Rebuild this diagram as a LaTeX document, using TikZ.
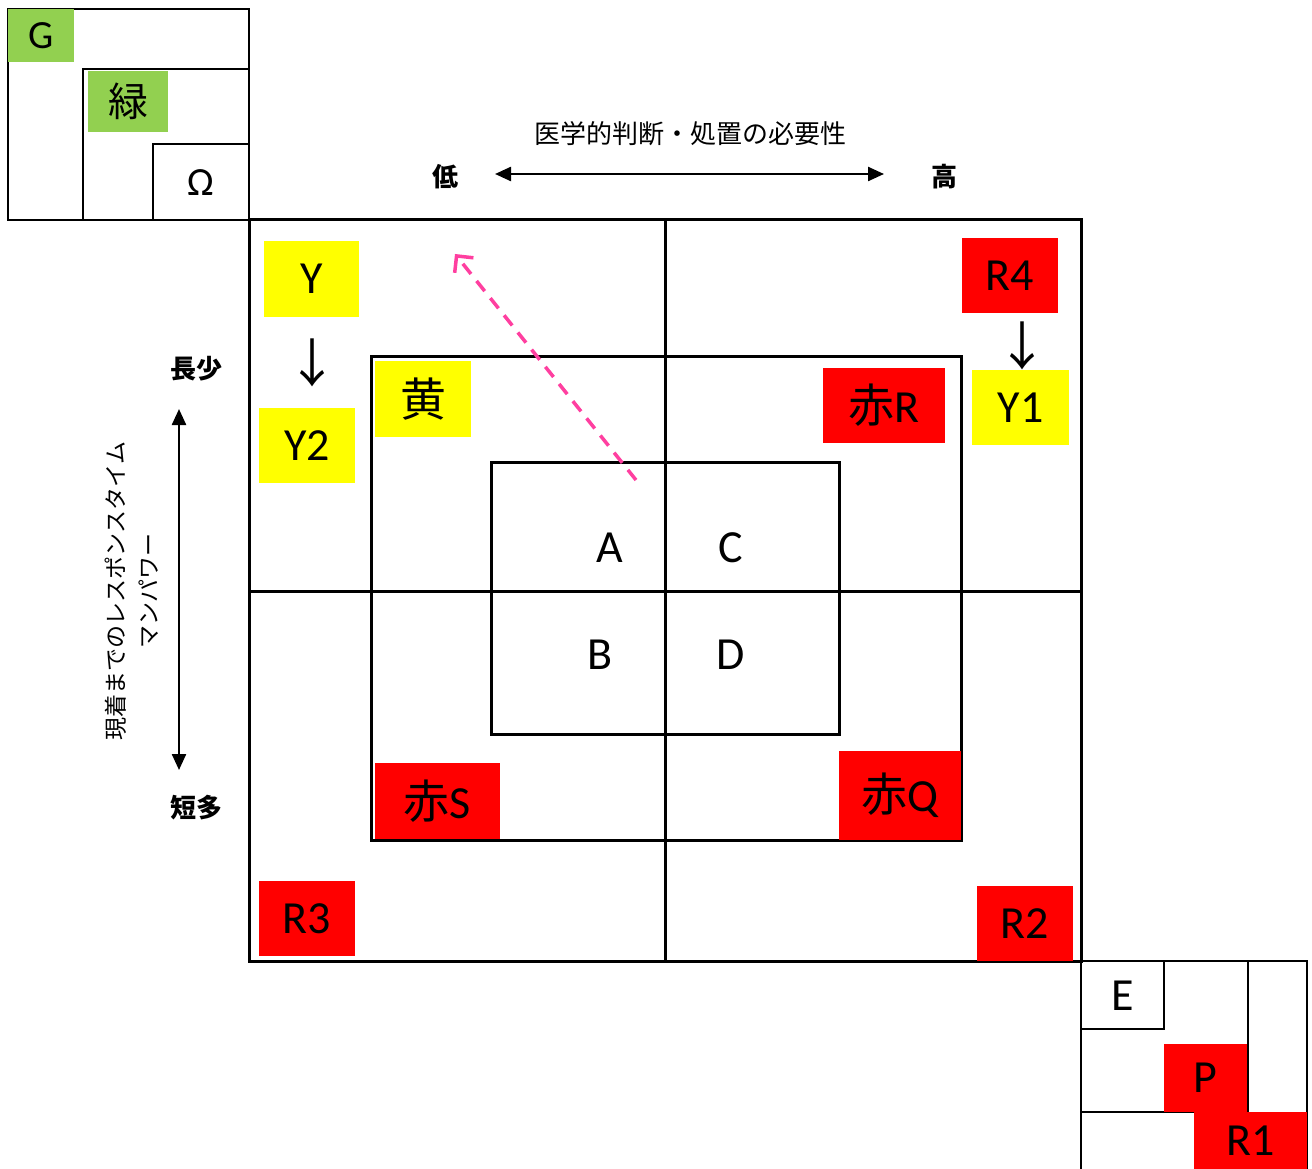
\documentclass[tikz,border=0pt]{standalone}
\usepackage{fontspec}
\setmainfont{Carlito}
\newfontfamily\jp{Noto Sans CJK JP}
\usetikzlibrary{arrows.meta}
\definecolor{ygreen}{HTML}{92D050}
\definecolor{pyel}{HTML}{FFFF00}
\definecolor{pred}{HTML}{FF0000}
\definecolor{ppink}{HTML}{FF3FA0}
\begin{document}
\begin{tikzpicture}[x=1pt,y=-1pt,
  frame/.style={line width=3pt, line cap=rect},
  thinframe/.style={line width=2.6pt, line cap=rect},
  lbl/.style={inner sep=0pt, font=\fontsize{46}{50}\selectfont},
  smalllbl/.style={inner sep=0pt, font=\fontsize{40}{44}\selectfont},
  axislbl/.style={inner sep=0pt, font=\jp\bfseries\fontsize{26}{30}\selectfont},
  axisarrow/.style={line width=2.4pt, {Triangle[length=16pt,width=14pt]}-{Triangle[length=16pt,width=14pt]}},
  downglyph/.style={inner sep=0pt, font=\jp\fontsize{52}{56}\selectfont}
]
\useasboundingbox (0,0) rectangle (1312,1169);
\fill[white] (0,0) rectangle (1312,1169);

% ---- top-left group
\draw[thinframe] (8,9) rectangle (249,220);
\draw[thinframe] (83,220) |- (249,69);
\draw[thinframe] (153,220) |- (249,144);

% ---- main grid
\draw[frame] (249,220) rectangle (1081,961);
\draw[frame] (665,220) -- (665,961);
\draw[frame] (249,591) -- (1081,591);
\draw[frame] (371,356) rectangle (961,840);
\draw[frame] (491,462) rectangle (839,734);

% ---- bottom-right group
\draw[thinframe] (1081,961) -- (1307,961) -- (1307,1169);
\draw[thinframe] (1081,961) -- (1081,1169);
\draw[thinframe] (1164,961) |- (1081,1029);
\draw[thinframe] (1248,961) |- (1081,1112);

% ---- coloured tags
\node[smalllbl, fill=ygreen, minimum width=66pt, minimum height=53pt] (g) at (41,35.5) {G};
\node[smalllbl, fill=ygreen, minimum width=80pt, minimum height=61pt, font=\jp\fontsize{40}{44}\selectfont] (midori) at (128,101.5) {緑};
\node[smalllbl] (omega) at (201,183) {Ω};

\node[lbl, fill=pyel, minimum width=95pt, minimum height=76pt] (y) at (311.5,279) {Y};
\node[downglyph] (dn1) at (312,363) {↓};
\node[lbl, fill=pyel, minimum width=96pt, minimum height=75pt] (y2) at (307,445.5) {Y2};
\node[lbl, fill=pyel, minimum width=96pt, minimum height=76pt, font=\jp\fontsize{46}{50}\selectfont] (ki) at (423,399) {黄};

\node[lbl, fill=pred, minimum width=96pt, minimum height=75pt] (r4) at (1010,275.5) {R4};
\node[downglyph] (dn2) at (1022,346) {↓};
\node[lbl, fill=pyel, minimum width=97pt, minimum height=75pt] (y1) at (1020.5,407.5) {Y1};
\node[lbl, fill=pred, minimum width=122pt, minimum height=75pt] (akar) at (884,405.5) {{\jp 赤}R};
\node[lbl, fill=pred, minimum width=125pt, minimum height=76pt] (akas) at (437.5,801) {{\jp 赤}S};
\node[lbl, fill=pred, minimum width=122pt, minimum height=89pt] (akaq) at (900,795.5) {{\jp 赤}Q};
\node[lbl, fill=pred, minimum width=96pt, minimum height=75pt] (r3) at (307,918.5) {R3};
\node[lbl, fill=pred, minimum width=96pt, minimum height=75pt] (r2) at (1025,923.5) {R2};

\node[lbl] (a) at (610,548) {A};
\node[lbl] (c) at (731,548) {C};
\node[lbl] (b) at (600,655) {B};
\node[lbl] (d) at (731,655) {D};

\node[lbl] (e) at (1122.5,996) {E};
\node[lbl, fill=pred, minimum width=83pt, minimum height=68pt] (p) at (1205.5,1078) {P};
\node[lbl, fill=pred, minimum width=113pt, minimum height=57pt, text depth=0pt] (r1) at (1250.5,1140.5) {R1};

% ---- axes
\node[inner sep=0pt, font=\jp\fontsize{26}{30}\selectfont] (title) at (690,134) {医学的判断・処置の必要性};
\node[axislbl] (low) at (445,177) {低};
\node[axislbl] (high) at (944,177) {高};
\coordinate (hl) at (495,174);
\coordinate (hr) at (884,174);
\draw[axisarrow] (hl) -- (hr);

\node[axislbl] (long) at (196,369) {長少};
\node[axislbl] (short) at (196,808) {短多};
\coordinate (vt) at (179,409);
\coordinate (vb) at (179,770);
\draw[axisarrow] (vt) -- (vb);
\node[rotate=90, align=center, inner sep=0pt, font=\jp\fontsize{23}{33}\selectfont] (vlab) at (132,591) {現着までのレスポンスタイム\\マンパワー};

% ---- pink dashed arrow
\coordinate (ps) at (636,480);
\coordinate (pe) at (455,254);
\draw[ppink, line width=3.5pt, dash pattern=on 13pt off 9pt, -{Straight Barb[length=12pt,width=24pt,line width=3.5pt]}] (ps) -- (pe);
\end{tikzpicture}
\end{document}
